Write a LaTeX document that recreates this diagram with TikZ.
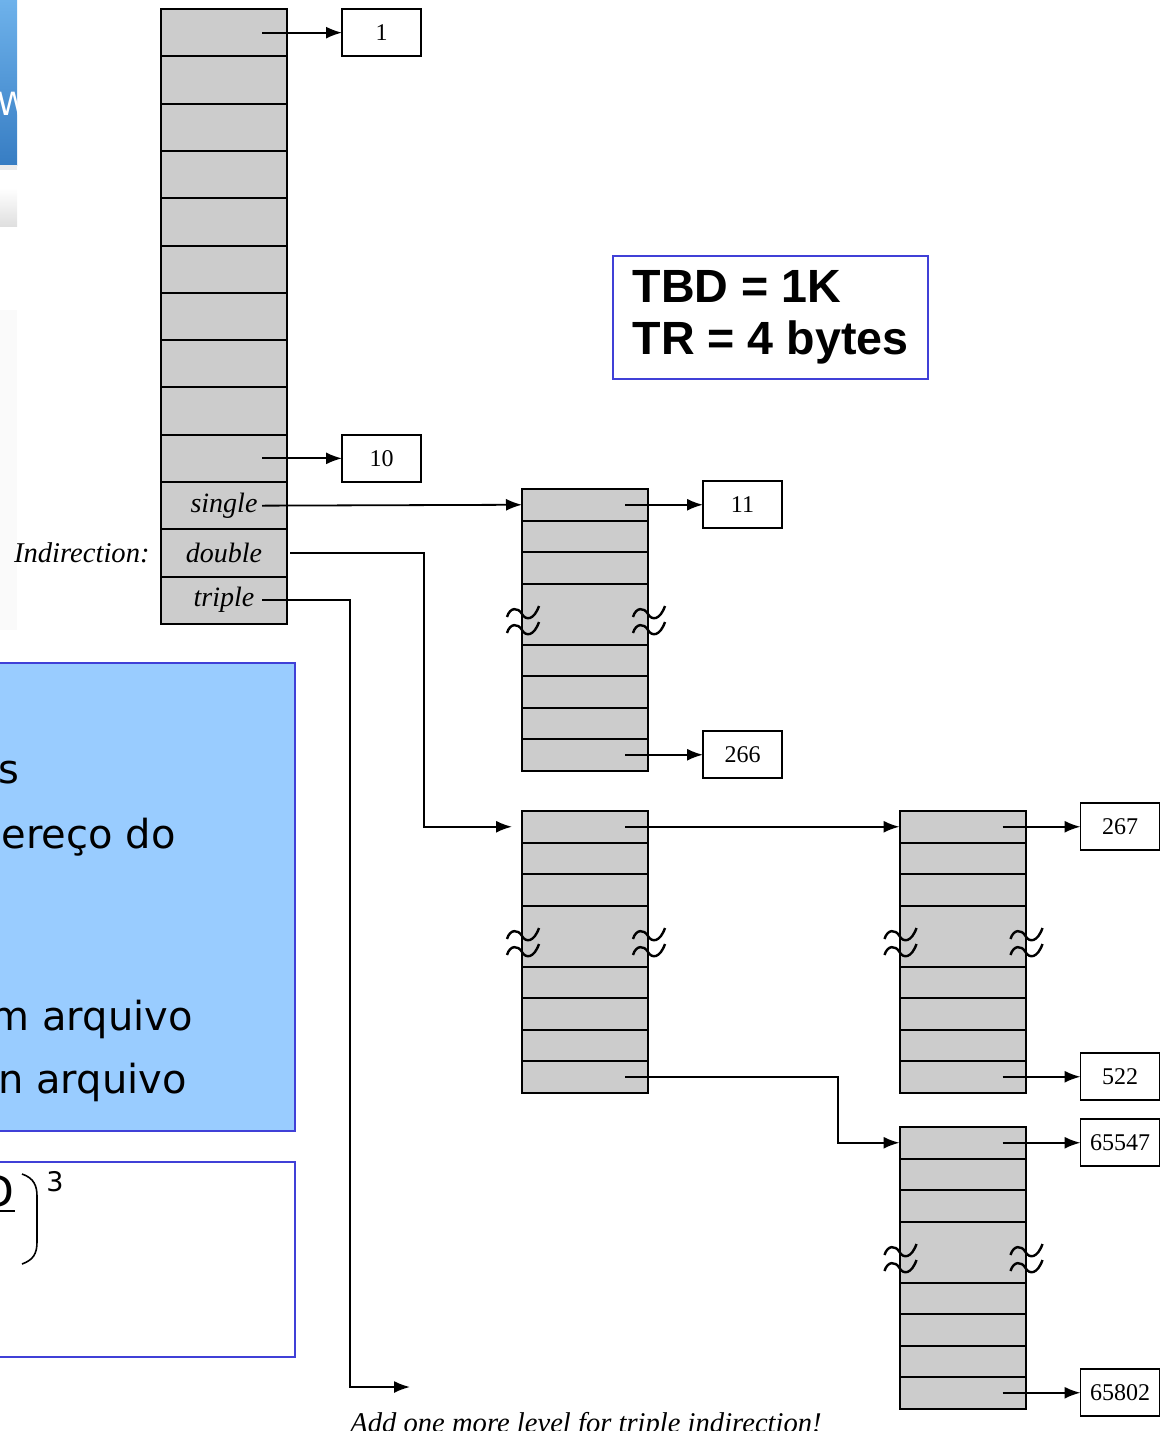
\documentclass[tikz,border=0pt]{standalone}
\usepackage{fontspec}
\setmainfont{Liberation Serif}
\newfontfamily\slidefont{DejaVu Sans}
\newfontfamily\tbdfont{Liberation Sans}
\usetikzlibrary{positioning,arrows.meta}
\definecolor{cellgray}{RGB}{204,204,204}
\definecolor{slideblue}{RGB}{64,64,215}
\definecolor{boxblue}{RGB}{153,204,255}
\definecolor{bartop}{RGB}{110,178,235}
\definecolor{barbot}{RGB}{55,125,195}
\tikzset{
  cell/.style={draw, fill=cellgray, line width=1pt, minimum width=63pt,
    inner sep=0pt, outer sep=0pt, font=\itshape\fontsize{14}{16}\selectfont},
  numbox/.style={draw, line width=0.9pt, minimum width=39.5pt, minimum height=23.5pt,
    inner sep=0pt, outer sep=0pt, font=\fontsize{12}{14}\selectfont},
  ptr/.style={line width=0.9pt, -{Latex[length=8pt,width=6pt]}},
  note/.style={inner sep=0pt, font=\itshape\fontsize{14.3}{16}\selectfont},
  squig/.pic={
    \draw[line width=1.2pt] (-15,-4) .. controls (-12,-14) and (-4,-14) .. (0,-7)
      .. controls (4,0) and (12,-1) .. (17,-15);
    \draw[line width=1.2pt] (-15,12) .. controls (-12,2) and (-4,2) .. (0,9)
      .. controls (4,16) and (12,15) .. (17,1);
  }
}
\begin{document}
\begin{tikzpicture}[x=0.5pt,y=-0.5pt]
\useasboundingbox (0,0) rectangle (1169,1431);
\clip (0,0) rectangle (1169,1431);

% slide pieces on the left
\shade[top color=bartop, bottom color=barbot] (0,0) rectangle (17,165);
\begin{scope}
\clip (0,0) rectangle (17,165);
\node[white, anchor=base west, inner sep=0pt, font=\slidefont\fontsize{16}{18}\selectfont] (wfrag) at (-3,115) {W};
\end{scope}
\fill[gray!15] (0,165) rectangle (17,170);
\shade[top color=white, bottom color=gray!25] (0,188) rectangle (17,226);
\fill[gray!4] (0,310) rectangle (17,630);

\draw[slideblue, line width=1pt, fill=boxblue] (-10,663) rectangle (295,1131);
\node[anchor=base east, inner sep=0pt, font=\slidefont\fontsize{20}{24}\selectfont] (txa) at (20,783) {s};
\node[anchor=base east, inner sep=0pt, font=\slidefont\fontsize{20}{24}\selectfont] (txb) at (176,848) {ereço do};
\node[anchor=base east, inner sep=0pt, font=\slidefont\fontsize{20}{24}\selectfont] (txc) at (193,1030) {m arquivo};
\node[anchor=base east, inner sep=0pt, font=\slidefont\fontsize{20}{24}\selectfont] (txd) at (187,1093) {n arquivo};

\draw[slideblue, line width=1pt, fill=white] (-10,1162) rectangle (295,1357);
\node[anchor=base east, inner sep=0pt, font=\slidefont\fontsize{22}{26}\selectfont] (frnum) at (15,1207) {TBD};
\draw[line width=0.8pt] (-60,1211) -- (15,1211);
\draw[line width=0.8pt] (22,1174) .. controls (34,1178) and (37,1186) .. (37,1196)
  -- (37,1242) .. controls (37,1254) and (33,1260) .. (22,1264);
\node[anchor=north west, inner sep=0pt, font=\slidefont\fontsize{13.5}{16}\selectfont] (frexp) at (46,1171) {3};

% inode column
\foreach \n in {1,...,10} {
  \pgfmathsetmacro\yy{9+47.3*(\n-0.5)}
  \node[cell, minimum height=23.65pt] (i\n) at (224,\yy) {};
}
\node[cell, minimum height=23.65pt] (i11) at (224,505.65) {single};
\node[cell, minimum height=23.65pt] (i12) at (224,552.95) {double};
\node[cell, minimum height=23.65pt] (i13) at (224,600.25) {triple};
\node[note, left=5.5pt of i12] (indir) {Indirection:};

% pointer blocks
\foreach \blk/\bx/\by in {a/585/489, b/585/811, c/962.5/811, d/962.5/1127} {
  \foreach \k/\dy in {1/15.75, 2/47.25, 3/78.75, 4/171.25, 5/202.75, 6/234.25, 7/265.75}
    \node[cell, minimum height=15.75pt] (\blk\k) at (\bx,\by+\dy) {};
  \node[cell, minimum height=30.5pt] (\blk gap) at (\bx,\by+125) {};
  \pic at ([yshift=-3.5pt]\blk gap.west) {squig};
  \pic at ([yshift=-3.5pt]\blk gap.east) {squig};
}

% data blocks
\node[numbox, right=27.5pt of i1] (n1) {1};
\node[numbox, right=27.5pt of i10] (n10) {10};
\node[numbox, right=27.5pt of a1] (n11) {11};
\node[numbox, right=27.5pt of a7] (n266) {266};
\node[numbox, right=27.5pt of c1] (n267) {267};
\node[numbox, right=27.5pt of c7] (n522) {522};
\node[numbox, right=27.5pt of d1] (n65547) {65547};
\node[numbox, right=27.5pt of d7] (n65802) {65802};

\draw[ptr] ([xshift=-12.5pt]i1.east) -- (n1.west);
\draw[ptr] ([xshift=-12.5pt]i10.east) -- (n10.west);
\draw[ptr] ([xshift=-11.5pt]a1.east) -- (n11.west);
\draw[ptr] ([xshift=-11.5pt]a7.east) -- (n266.west);
\draw[ptr] ([xshift=-11.5pt]c1.east) -- (n267.west);
\draw[ptr] ([xshift=-11.5pt]c7.east) -- (n522.west);
\draw[ptr] ([xshift=-11.5pt]d1.east) -- (n65547.west);
\draw[ptr] ([xshift=-11.5pt]d7.east) -- (n65802.west);

% indirection links
\draw[ptr] ([xshift=-12.5pt]i11.east) -- (a1.west);
\draw[ptr, shorten >=5pt] ([xshift=1.5pt]i12.east) -- ++(134,0) |- (b1.west);
\draw[ptr] ([xshift=-11.5pt]b1.east) -- (c1.west);
\draw[ptr] ([xshift=-11.5pt]b7.east) -- ++(213,0) |- (d1.west);
\coordinate (tend) at (410,1387);
\draw[ptr] ([xshift=-12.5pt]i13.east) -- ++(88,0) |- (tend);
\node[note, anchor=base west] (more) at (350,1432) {Add one more level for triple indirection!};

\node[draw=slideblue, line width=1pt, anchor=north west, minimum width=157.5pt,
  minimum height=61.5pt, align=left,
  font=\tbdfont\bfseries\fontsize{23.3}{26}\selectfont] (tbd) at (612,255) {TBD = 1K\\TR = 4 bytes};
\end{tikzpicture}
\end{document}
